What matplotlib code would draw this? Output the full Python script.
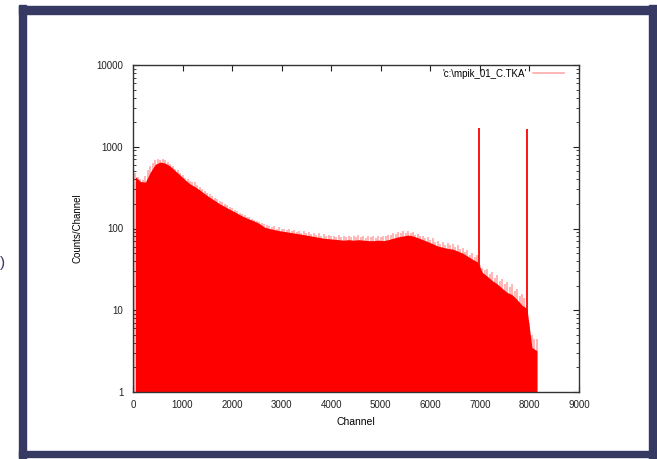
import matplotlib
matplotlib.use("Agg")
import matplotlib.pyplot as plt
import numpy as np
from matplotlib.lines import Line2D
from matplotlib.patches import Rectangle

plt.rcParams['font.family'] = ['Liberation Sans', 'DejaVu Sans']

# spectrum: typical level per 100 channels (bin centre)
channel = np.arange(50, 8200, 100)
counts = [430, 375, 370, 490, 610, 650, 630, 580, 510, 450,
          395, 350, 325, 295, 265, 240, 220, 200, 186, 172,
          160, 148, 138, 130, 123, 115, 104, 100, 97, 94,
          92, 90, 88, 86, 84, 82, 80, 78, 76, 75,
          74, 73, 72, 73, 72, 73, 72, 71, 71, 72,
          71, 73, 76, 79, 81, 83, 81, 77, 73, 69,
          65, 61, 59, 57, 56, 53, 50, 46, 42, 39,
          29, 26, 23, 21, 18.5, 16.5, 15.5, 13.5, 11.5, 10.5,
          3.5, 3.2]

# noise maxima every 50 channels (pale fringe above the solid fill)
channel_fine = np.arange(50, 8200, 50)
counts_hi = [480, 430, 400, 395, 440, 520, 580, 640, 690, 700,
             690, 700, 680, 650, 610, 580, 540, 520, 480, 455,
             420, 400, 380, 375, 370, 340, 320, 300, 290, 275,
             262, 250, 238, 228, 215, 208, 198, 192, 182, 176,
             168, 163, 156, 150, 146, 140, 137, 132, 128, 125,
             121, 116, 112, 110, 107, 104, 106, 100, 103, 98,
             100, 95, 99, 93, 96, 91, 94, 89, 92, 87,
             90, 86, 88, 84, 87, 82, 85, 80, 84, 80,
             82, 79, 83, 78, 81, 79, 82, 78, 81, 79,
             83, 78, 80, 77, 81, 78, 80, 77, 82, 78,
             81, 80, 84, 83, 87, 85, 90, 88, 92, 89,
             93, 88, 90, 84, 86, 80, 82, 76, 78, 72,
             76, 68, 71, 65, 68, 63, 66, 62, 64, 59,
             62, 56, 58, 52, 54, 48, 50, 45, 47, 36,
             33, 31, 32, 28, 29, 25, 27, 23, 24, 21,
             22, 19, 21, 17, 18, 15, 16, 14, 9, 7,
             5, 4.5, 4.5]

peak_channels = [6985, 7945]
peak_counts = [1700, 1650]

x_ticks = [0, 1000, 2000, 3000, 4000, 5000, 6000, 7000, 8000, 9000]
y_ticks = [1, 10, 100, 1000, 10000]

fig = plt.figure(figsize=(6.57, 4.59), dpi=100)
ax = fig.add_axes([133/657, 1 - 392/459, 446/657, 327/459])

ax.vlines(channel_fine, 1, counts_hi, color='#ffb0b0', lw=1.3, zorder=1)
ax.fill_between(channel, 1, counts, color='#ff0000', lw=0, zorder=2)
ax.vlines(peak_channels, 1, peak_counts, color='#ff0000', lw=1.3, zorder=3)

ax.set_yscale('log')
ax.set_xlim(0, 9000)
ax.set_ylim(1, 10000)
ax.set_xticks(x_ticks)
ax.set_xticklabels([str(t) for t in x_ticks])
ax.set_yticks(y_ticks)
ax.set_yticklabels([str(t) for t in y_ticks])
ax.tick_params(which='both', direction='in', top=True, right=True,
               labelsize=7, colors='#222222')
ax.tick_params(axis='y', pad=7)
ax.tick_params(axis='x', pad=6)
ax.tick_params(which='major', length=4, width=0.8)
ax.tick_params(which='minor', length=2, width=0.6)
for s in ax.spines.values():
    s.set_linewidth(1.0)
    s.set_color('#333333')
    s.set_zorder(4)

ax.set_xlabel('Channel', fontsize=7.5, labelpad=5)
ax.set_ylabel('Counts/Channel', fontsize=7, labelpad=10)

handle = Line2D([], [], color='#ffaaaa', lw=1.2)
ax.legend([handle], ["'c:\\mpik_01_C.TKA'"], loc='upper right',
          bbox_to_anchor=(0.975, 1.0), frameon=False, markerfirst=False,
          fontsize=7, handlelength=3.2, handletextpad=0.6, borderaxespad=0)

# slide frame
navy = '#363a62'
fig.patches.append(Rectangle((19/657, 0), 7/657, 454/459,
                             transform=fig.transFigure, color=navy))
fig.patches.append(Rectangle((19/657, 1 - 14/459), 638/657, 8/459,
                             transform=fig.transFigure, color=navy))
fig.patches.append(Rectangle((649/657, 0), 8/657, 454/459,
                             transform=fig.transFigure, color=navy))
fig.patches.append(Rectangle((19/657, 2/459), 638/657, 6/459,
                             transform=fig.transFigure, color=navy))
fig.text(0.0, 1 - 263/459, ')', color=navy, fontsize=11, ha='left', va='center')

fig.savefig('out.png', dpi=100)
